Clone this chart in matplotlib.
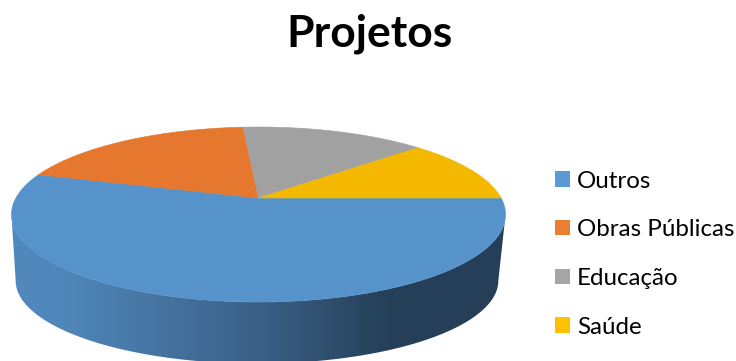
#! /usr/bin/env python3

import numpy as np
import matplotlib
matplotlib.use("Agg")
import matplotlib.pyplot as plt
from matplotlib.colors import LinearSegmentedColormap
from matplotlib.patches import Patch, Polygon

labels = ["Outros", "Obras Públicas", "Educação", "Saúde"]
values = [54.7, 19.1, 14.5, 11.7]
top_colors = ["#5693CB", "#E6772E", "#A1A1A1", "#F5B800"]
legend_colors = ["#5B9BD5", "#ED7D31", "#A5A5A5", "#FFC000"]

# perspective of the tilted disc, in pixels
persp = 0.1886


def project(theta, cx, cy, rx, ry):
    s = 1.0 + persp * np.sin(theta)
    return np.column_stack((cx + rx * np.cos(theta) / s, cy - ry * np.sin(theta) / s))


def top(theta):
    return project(theta, 258.5, 198.0, 242.6, 84.4)


def base(theta):
    return project(theta, 257.0, 265.0, 237.0, 80.0)


fig = plt.figure(figsize=(7.36, 3.61), dpi=100)
ax = fig.add_axes([0, 0, 1, 1])
ax.axis("off")

# side wall, shaded left to right and clipped to the front of the disc
edge = np.arcsin(persp)
front = np.linspace(-edge, -np.pi + edge, 200)
wall = Polygon(np.vstack((top(front), base(front[::-1]))), closed=True,
               transform=ax.transData, facecolor="none", edgecolor="none")
ax.add_patch(wall)
shade = LinearSegmentedColormap.from_list(
    "wall", [(0.0, "#5089BD"), (0.1, "#5087BA"), (0.5, "#3B6087"),
             (0.77, "#243F57"), (1.0, "#243F57")])
img = ax.imshow(np.linspace(0, 1, 500)[None, :], cmap=shade, aspect="auto",
                extent=(12, 505, 361, 200), interpolation="bilinear")
img.set_clip_path(wall)

# slices run clockwise from the right hand side
shares = np.array(values) / np.sum(values) * 2 * np.pi
ends = -np.cumsum(shares)
starts = ends + shares
for start, end, color in zip(starts, ends, top_colors):
    theta = np.linspace(start, end, 200)
    pts = np.vstack((top(theta), [[258.5, 198.0]]))
    ax.add_patch(Polygon(pts, closed=True, facecolor=color, edgecolor=color, linewidth=0.4))

ax.set_xlim(0, 736)
ax.set_ylim(361, 0)

ax.text(369, 47, "Projetos", ha="center", va="baseline", fontsize=32,
        fontweight="bold", family="Lato", color="black")

handles = [Patch(facecolor=c, edgecolor="none", label=l) for c, l in zip(legend_colors, labels)]
fs = 17.4
ax.legend(handles=handles, loc="upper left", bbox_to_anchor=(555, 170.5),
          bbox_transform=ax.transData, frameon=False, borderpad=0, borderaxespad=0,
          prop={"family": "Lato", "size": fs}, labelspacing=1.145,
          handlelength=0.62, handleheight=0.62, handletextpad=0.29, labelcolor="black")

fig.savefig("out.png", dpi=100)
